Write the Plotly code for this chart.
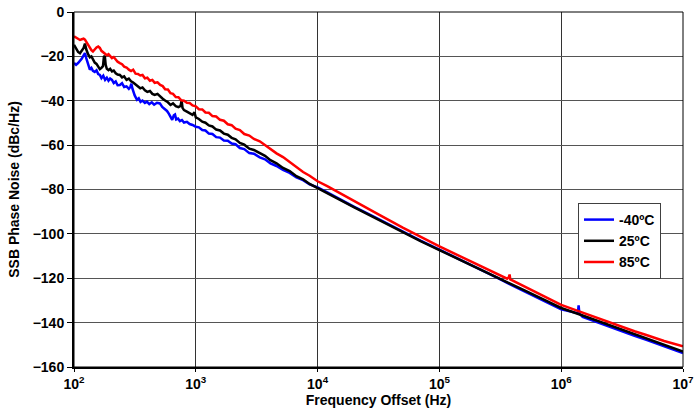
import plotly.graph_objects as go

# ---------------- data ----------------
freq_m40 = [100, 104, 108, 112, 116, 120, 123, 126, 131, 135, 139, 143, 148, 153, 158, 163, 168, 174, 180, 186,
            192, 198, 205, 212, 220, 228, 238, 248, 258, 270, 282, 290, 296, 302, 315, 329, 340, 352, 365, 382,
            397, 415, 435, 455, 480, 507, 530, 555, 580, 600, 620, 640, 660, 675, 690, 715, 740, 770, 800, 845,
            890, 940, 1000, 1060, 1130, 1200, 1280, 1370, 1470, 1580, 1700, 1830, 1970, 2120, 2300, 2500, 2750,
            3000, 3350, 3700, 4100, 4600, 5200, 5900, 6700, 7600, 8600, 10000, 12000, 15000, 20000, 30000, 50000,
            70000, 100000, 150000, 200000, 300000, 377000, 500000, 700000, 1000000, 1300000, 1370000, 1390000,
            1410000, 1500000, 2000000, 2830000, 4000000, 5000000, 7000000, 10000000]
pn_m40 = [-23.0, -23.8, -23.0, -22.2, -21.0, -19.5, -18.5, -20.8, -24.0, -26.0, -25.2, -26.5, -27.0, -26.3, -28.0,
          -28.4, -29.8, -28.7, -30.6, -29.6, -31.0, -30.0, -30.6, -32.0, -31.3, -33.0, -32.9, -32.1, -33.8, -33.5,
          -34.6, -33.8, -32.3, -34.6, -37.6, -39.6, -38.9, -40.5, -39.9, -41.0, -40.4, -41.5, -40.7, -41.8, -40.9,
          -41.2, -42.8, -43.6, -44.6, -45.8, -47.0, -48.6, -46.6, -46.2, -48.4, -48.0, -49.2, -48.7, -49.8, -49.5,
          -50.5, -50.9, -51.7, -52.0, -53.2, -53.4, -54.8, -55.0, -56.4, -56.6, -57.9, -58.0, -59.3, -59.6, -61.3,
          -61.8, -63.6, -63.9, -65.5, -66.4, -68.2, -69.4, -71.2, -72.5, -74.5, -75.8, -77.7, -79.0, -81.3, -84.2,
          -87.8, -92.7, -99.0, -103.0, -107.1, -111.7, -115.1, -119.8, -122.6, -125.9, -129.8, -134.0, -135.5,
          -135.8, -132.2, -135.9, -137.4, -140.0, -143.2, -146.0, -147.8, -150.7, -153.7]

freq_25 = [100, 104, 108, 112, 116, 120, 123, 126, 131, 135, 139, 143, 148, 153, 158, 163, 168, 173, 176, 179,
           182, 186, 192, 198, 205, 212, 220, 228, 238, 248, 258, 270, 282, 294, 306, 320, 335, 350, 365, 382,
           400, 420, 440, 460, 485, 510, 535, 560, 590, 620, 650, 685, 720, 750, 765, 778, 800, 845, 890, 940,
           975, 1000, 1060, 1130, 1200, 1280, 1370, 1470, 1580, 1700, 1830, 1970, 2120, 2300, 2500, 2750, 3000,
           3350, 3700, 4100, 4600, 5200, 5900, 6700, 7600, 8600, 10000, 12000, 15000, 20000, 30000, 50000, 70000,
           100000, 150000, 200000, 300000, 377000, 500000, 700000, 1000000, 1500000, 2000000, 2830000, 4000000,
           5000000, 7000000, 10000000]
pn_25 = [-14.8, -16.5, -18.0, -18.6, -17.6, -16.2, -14.2, -16.8, -19.2, -20.4, -20.0, -21.6, -22.8, -23.4, -24.6,
         -25.8, -25.2, -24.4, -20.2, -19.8, -23.8, -25.6, -26.2, -25.6, -26.8, -26.4, -27.6, -28.2, -28.4, -29.5,
         -29.0, -30.6, -30.0, -31.2, -31.8, -32.8, -33.6, -34.4, -34.0, -35.3, -36.0, -35.6, -36.9, -37.4, -36.9,
         -38.2, -39.1, -39.9, -40.7, -41.9, -41.2, -42.4, -42.9, -42.3, -39.8, -43.2, -44.2, -44.9, -45.6, -46.4,
         -45.2, -47.5, -48.2, -49.4, -49.9, -51.1, -51.6, -53.0, -53.4, -54.8, -55.3, -56.7, -57.4, -59.0, -59.8,
         -61.6, -62.2, -63.7, -64.8, -66.8, -68.2, -70.3, -71.7, -74.0, -75.4, -77.5, -79.3, -81.6, -84.5, -88.1,
         -93.0, -99.3, -103.3, -107.3, -111.8, -115.1, -119.7, -122.3, -125.5, -129.3, -133.4, -136.8, -139.3,
         -142.3, -145.2, -147.1, -149.9, -153.0]

freq_85 = [100, 104, 108, 112, 116, 120, 123, 127, 131, 135, 139, 143, 148, 153, 158, 163, 168, 174, 180, 186,
           192, 198, 205, 212, 220, 228, 238, 248, 258, 270, 282, 294, 306, 320, 335, 350, 365, 382, 400, 420,
           440, 460, 485, 510, 535, 560, 590, 620, 650, 685, 720, 760, 800, 845, 890, 940, 1000, 1060, 1130, 1200,
           1280, 1370, 1470, 1580, 1700, 1830, 1970, 2120, 2300, 2500, 2750, 3000, 3350, 3700, 4100, 4600, 5200,
           5900, 6700, 7600, 8600, 10000, 12000, 15000, 20000, 30000, 50000, 70000, 100000, 150000, 200000,
           300000, 360000, 372000, 377000, 382000, 500000, 700000, 1000000, 1500000, 2000000, 2830000, 4000000,
           5000000, 7000000, 10000000]
pn_85 = [-11.0, -11.6, -12.2, -12.6, -12.3, -12.0, -12.4, -13.8, -15.2, -16.5, -17.2, -17.8, -16.8, -16.0, -15.6,
         -16.2, -17.5, -18.2, -18.8, -19.5, -19.0, -20.0, -20.8, -20.3, -21.5, -22.4, -23.0, -23.5, -24.6, -25.0,
         -26.0, -26.6, -26.0, -27.8, -27.9, -28.6, -28.4, -29.9, -29.6, -31.0, -30.6, -31.9, -31.7, -32.9, -33.4,
         -34.8, -34.9, -36.6, -36.9, -38.3, -38.4, -39.8, -40.0, -40.9, -41.0, -42.1, -42.5, -43.8, -43.9, -45.3,
         -45.4, -46.9, -47.1, -48.6, -49.0, -50.6, -51.0, -52.6, -53.2, -55.0, -55.7, -57.2, -58.3, -60.1, -61.6,
         -63.7, -65.4, -67.7, -69.6, -72.1, -73.8, -76.3, -78.5, -81.5, -85.3, -90.5, -97.2, -101.4, -105.6, -110.3,
         -113.6, -118.2, -120.2, -119.5, -118.3, -120.5, -123.8, -127.8, -132.0, -135.5, -138.0, -141.0, -143.9,
         -145.6, -148.3, -150.7]

series_names = ["-40ºC", "25ºC", "85ºC"]
series_colors = ["#0000FF", "#000000", "#FF0000"]

x_tick_vals = [1e2, 1e3, 1e4, 1e5, 1e6, 1e7]
x_tick_text = ["10<sup>2</sup>", "10<sup>3</sup>", "10<sup>4</sup>", "10<sup>5</sup>", "10<sup>6</sup>", "10<sup>7</sup>"]
y_tick_vals = [-160, -140, -120, -100, -80, -60, -40, -20, 0]

# ---------------- figure ----------------
FONT = "Liberation Sans, Arial, sans-serif"
FS = 14
bold = dict(family=FONT, size=FS, color="black", weight="bold")

fig = go.Figure()
for fx, fy, name, col in zip([freq_m40, freq_25, freq_85], [pn_m40, pn_25, pn_85], series_names, series_colors):
    fig.add_trace(go.Scatter(x=fx, y=fy, mode="lines", name=name,
                             line=dict(color=col, width=2.5)))

fig.update_layout(
    width=699, height=411,
    margin=dict(l=74, r=16, t=12, b=44),
    paper_bgcolor="white", plot_bgcolor="white",
    font=bold,
    showlegend=True,
    legend=dict(x=0.8276, y=0.462, xanchor="left", yanchor="top",
                bgcolor="white", bordercolor="#404040", borderwidth=1,
                font=bold, itemwidth=30, tracegroupgap=0),
    shapes=[dict(type="rect", xref="paper", yref="paper", x0=0, y0=0, x1=1, y1=1,
                 line=dict(color="black", width=1), layer="above")],
)
fig.update_xaxes(type="log", range=[2, 7], tickvals=x_tick_vals, ticktext=x_tick_text,
                 automargin=False, ticklabeloverflow="allow",
                 showgrid=True, gridcolor="#333333", gridwidth=1,
                 showline=True, linecolor="black", linewidth=2,
                 ticks="outside", ticklen=3, tickcolor="black",
                 tickfont=bold,
                 title=dict(text="Frequency Offset (Hz)", standoff=2, font=bold),
                 zeroline=False)
fig.update_yaxes(range=[-160, 0], tickvals=y_tick_vals,
                 automargin=False, ticklabeloverflow="allow",
                 showgrid=True, gridcolor="#555555", gridwidth=1,
                 showline=True, linecolor="black", linewidth=2,
                 ticks="outside", ticklen=5, tickcolor="black",
                 tickfont=bold,
                 title=dict(text="SSB Phase Noise (dBc/Hz)", standoff=10, font=bold),
                 zeroline=False)

# remove the default 8px page margin so the figure sits at the window origin
fig.write_html("out.html",
               config={"displayModeBar": False},
               post_script="document.body.style.margin='0';document.body.style.overflow='hidden';")
